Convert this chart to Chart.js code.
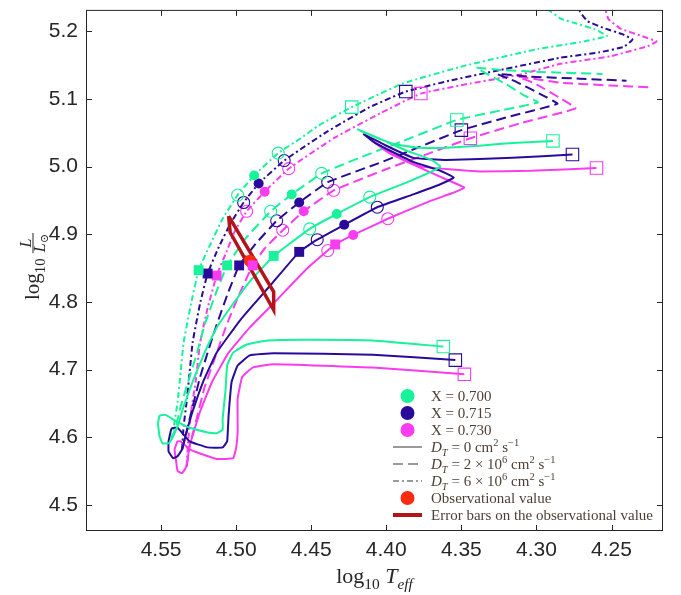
<!DOCTYPE html>
<html>
<head>
<meta charset="utf-8">
<script src="https://cdn.jsdelivr.net/npm/chart.js@4.4.1/dist/chart.umd.min.js"></script>
<style>
  html, body { margin: 0; padding: 0; background: #fff; }
</style>
</head>
<body>
<canvas id="hr" width="681" height="595"></canvas>
<script>
'use strict';

// ─── Axis ticks / ranges ──────────────────────────────────────────────────────
const xTicks = [4.55, 4.50, 4.45, 4.40, 4.35, 4.30, 4.25];
const yTicks = [4.5, 4.6, 4.7, 4.8, 4.9, 5.0, 5.1, 5.2];
const X_MIN = 4.2157, X_MAX = 4.60;
const Y_MIN = 4.4614, Y_MAX = 5.2317;

// ─── Evolutionary tracks [log Teff, log L] ────────────────────────────────────
// D_T = 0 (solid), includes the pre-MS relaxation from the lower square
const greenSolid = [
  [4.362,4.734],[4.409,4.743],[4.453,4.744],[4.479,4.743],[4.493,4.737],[4.502,4.725],
  [4.506,4.706],[4.507,4.671],[4.509,4.627],[4.509,4.611],[4.513,4.606],[4.519,4.607],
  [4.531,4.614],[4.541,4.625],[4.547,4.633],[4.551,4.632],[4.552,4.620],[4.551,4.601],
  [4.549,4.591],[4.545,4.591],[4.543,4.597],[4.539,4.616],[4.535,4.645],[4.529,4.682],
  [4.521,4.725],[4.513,4.762],[4.504,4.791],[4.491,4.830],[4.475,4.868],[4.451,4.908],
  [4.433,4.930],[4.411,4.955],[4.386,4.977],[4.364,5.000],[4.370,5.010],[4.388,5.025],
  [4.404,5.041],[4.419,5.055],[4.408,5.044],[4.394,5.033],[4.378,5.028],[4.360,5.028],
  [4.338,5.031],[4.316,5.035],[4.289,5.038]
];
const blueSolid = [
  [4.354,4.714],[4.409,4.722],[4.475,4.724],[4.491,4.721],[4.499,4.706],[4.503,4.682],
  [4.505,4.633],[4.506,4.594],[4.509,4.585],[4.519,4.585],[4.531,4.594],[4.539,4.614],
  [4.543,4.613],[4.545,4.594],[4.545,4.579],[4.542,4.569],[4.539,4.572],[4.536,4.582],
  [4.533,4.608],[4.529,4.638],[4.522,4.682],[4.513,4.725],[4.497,4.774],[4.477,4.825],
  [4.458,4.874],[4.446,4.892],[4.428,4.914],[4.406,4.940],[4.382,4.959],[4.364,4.974],
  [4.355,4.984],[4.364,4.994],[4.382,5.007],[4.396,5.022],[4.408,5.036],[4.415,5.048],
  [4.401,5.032],[4.382,5.013],[4.360,5.010],[4.316,5.013],[4.276,5.018]
];
const magentaSolid = [
  [4.348,4.693],[4.409,4.703],[4.475,4.708],[4.489,4.703],[4.496,4.689],[4.499,4.657],
  [4.499,4.608],[4.500,4.584],[4.502,4.569],[4.513,4.568],[4.524,4.576],[4.531,4.582],
  [4.537,4.594],[4.539,4.594],[4.541,4.582],[4.540,4.565],[4.539,4.550],[4.536,4.547],
  [4.533,4.557],[4.531,4.587],[4.524,4.638],[4.516,4.682],[4.505,4.725],[4.491,4.762],
  [4.475,4.798],[4.453,4.849],[4.439,4.876],[4.434,4.885],[4.422,4.899],[4.399,4.923],
  [4.371,4.949],[4.356,4.961],[4.348,4.969],[4.360,4.981],[4.382,5.003],[4.398,5.020],
  [4.411,5.041],[4.398,5.022],[4.388,5.010],[4.376,5.000],[4.358,4.996],[4.338,4.993],
  [4.304,4.994],[4.260,4.998]
];
// D_T = 2e6 (dashed)
const greenDashed = [
  [4.543,4.597],[4.540,4.616],[4.537,4.645],[4.532,4.682],[4.526,4.725],[4.521,4.766],
  [4.514,4.810],[4.506,4.854],[4.494,4.893],[4.477,4.934],[4.463,4.959],[4.443,4.990],
  [4.418,5.013],[4.391,5.036],[4.353,5.069],[4.324,5.083],[4.299,5.095],[4.308,5.105],
  [4.321,5.123],[4.333,5.137],[4.340,5.146],[4.324,5.143],[4.298,5.140],[4.256,5.137]
];
const blueDashed = [
  [4.536,4.582],[4.533,4.608],[4.529,4.645],[4.524,4.689],[4.519,4.725],[4.513,4.766],
  [4.506,4.810],[4.498,4.854],[4.487,4.886],[4.473,4.920],[4.458,4.947],[4.439,4.977],
  [4.404,5.006],[4.378,5.029],[4.350,5.054],[4.318,5.074],[4.286,5.093],[4.298,5.108],
  [4.314,5.126],[4.326,5.137],[4.304,5.133],[4.271,5.130],[4.240,5.127]
];
const magentaDashed = [
  [4.533,4.557],[4.531,4.587],[4.526,4.630],[4.521,4.674],[4.514,4.718],[4.507,4.762],
  [4.499,4.806],[4.489,4.854],[4.481,4.879],[4.469,4.906],[4.455,4.934],[4.435,4.965],
  [4.398,4.998],[4.371,5.020],[4.344,5.042],[4.311,5.064],[4.274,5.086],[4.284,5.101],
  [4.301,5.123],[4.312,5.133],[4.284,5.124],[4.251,5.120],[4.223,5.117]
];
// D_T = 6e6 (dash-dot)
const greenDashDot = [
  [4.543,4.597],[4.541,4.623],[4.539,4.652],[4.537,4.696],[4.535,4.740],[4.530,4.798],
  [4.525,4.847],[4.517,4.886],[4.509,4.923],[4.499,4.958],[4.488,4.987],[4.472,5.020],
  [4.457,5.042],[4.445,5.061],[4.423,5.088],[4.389,5.123],[4.348,5.149],[4.299,5.174],
  [4.271,5.184],[4.253,5.193],[4.261,5.203],[4.274,5.212],[4.284,5.219],[4.292,5.232],
  [4.298,5.244]
];
const blueDashDot = [
  [4.536,4.582],[4.535,4.616],[4.533,4.652],[4.531,4.696],[4.529,4.740],[4.524,4.798],
  [4.519,4.842],[4.512,4.879],[4.504,4.915],[4.495,4.947],[4.485,4.975],[4.468,5.009],
  [4.440,5.051],[4.411,5.088],[4.387,5.111],[4.358,5.127],[4.324,5.143],[4.284,5.161],
  [4.258,5.169],[4.242,5.177],[4.236,5.188],[4.243,5.196],[4.254,5.204],[4.266,5.215],
  [4.271,5.229],[4.273,5.244]
];
const magentaDashDot = [
  [4.533,4.557],[4.532,4.594],[4.530,4.638],[4.527,4.682],[4.524,4.740],[4.519,4.791],
  [4.513,4.839],[4.507,4.871],[4.501,4.904],[4.493,4.934],[4.481,4.963],[4.465,4.997],
  [4.435,5.042],[4.404,5.079],[4.377,5.108],[4.344,5.123],[4.311,5.136],[4.284,5.152],
  [4.251,5.163],[4.226,5.178],[4.220,5.185],[4.231,5.194],[4.244,5.204],[4.252,5.218],
  [4.254,5.232],[4.255,5.244]
];

// ─── Markers on the tracks ────────────────────────────────────────────────────
const greenDots    = [[4.433,4.930],[4.463,4.959],[4.488,4.987]];
const blueDots     = [[4.428,4.914],[4.458,4.947],[4.485,4.975]];
const magentaDots  = [[4.422,4.899],[4.455,4.934],[4.481,4.963]];

const greenFilledSq   = [[4.475,4.868],[4.506,4.854],[4.525,4.847]];
const blueFilledSq    = [[4.458,4.874],[4.498,4.854],[4.519,4.842]];
const magentaFilledSq = [[4.434,4.885],[4.489,4.854],[4.513,4.839]];

const greenOpenCirc   = [[4.451,4.908],[4.411,4.955],[4.477,4.934],[4.443,4.990],[4.499,4.958],[4.472,5.020]];
const blueOpenCirc    = [[4.446,4.892],[4.406,4.940],[4.473,4.920],[4.439,4.977],[4.495,4.947],[4.468,5.009]];
const magentaOpenCirc = [[4.439,4.876],[4.399,4.923],[4.469,4.906],[4.435,4.965],[4.493,4.934],[4.465,4.997]];

const greenOpenSq   = [[4.362,4.734],[4.289,5.038],[4.353,5.069],[4.423,5.088]];
const blueOpenSq    = [[4.354,4.714],[4.276,5.018],[4.350,5.054],[4.387,5.111]];
const magentaOpenSq = [[4.348,4.693],[4.260,4.998],[4.344,5.042],[4.377,5.108]];

// observation and its error box
const observed = [[4.491, 4.861]];
const errorBox = [[4.505,4.927],[4.504,4.903],[4.475,4.788],[4.475,4.815],[4.505,4.927]];

// legend text
const seriesLabels = ['X = 0.700', 'X = 0.715', 'X = 0.730'];
const dtMantissa = ['0', '2', '6'];
const dtExponent = [null, '6', '6'];
const obsLabel = 'Observational value';
const errLabel = 'Error bars on the observational value';

// ─── Styles ───────────────────────────────────────────────────────────────────
const GREEN = '#17f29b';
const BLUE = '#2a0a9a';
const MAGENTA = '#fa3cf0';
const OBS_RED = '#ff2a12';
const ERR_RED = '#b3141a';
const AXIS = '#262626';
const LEG_TEXT = '#4d3f33';
const SERIF = "'Liberation Serif', 'DejaVu Serif', serif";
const SANS = "'Liberation Sans', Arial, sans-serif";
const DASH = [10, 5];
const DASHDOT = [6, 3, 2, 3];

const toXY = arr => arr.map(p => ({ x: p[0], y: p[1] }));

function track(pts, color, dash) {
    return {
        data: toXY(pts), showLine: true, borderColor: color, borderWidth: 2,
        borderDash: dash, pointRadius: 0, tension: 0.1, order: 10,
    };
}

function markers(pts, color, style, radius, filled, order) {
    return {
        data: toXY(pts), showLine: false, pointStyle: style, pointRadius: radius,
        pointBackgroundColor: filled ? color : 'rgba(0,0,0,0)',
        pointBorderColor: color, pointBorderWidth: filled ? 0 : 1.1, order,
    };
}

const datasets = [
    track(greenSolid, GREEN, []), track(blueSolid, BLUE, []), track(magentaSolid, MAGENTA, []),
    track(greenDashed, GREEN, DASH), track(blueDashed, BLUE, DASH), track(magentaDashed, MAGENTA, DASH),
    track(greenDashDot, GREEN, DASHDOT), track(blueDashDot, BLUE, DASHDOT), track(magentaDashDot, MAGENTA, DASHDOT),
    { data: toXY(errorBox), showLine: true, borderColor: ERR_RED, borderWidth: 3.5,
      borderJoinStyle: 'miter', pointRadius: 0, order: 5 },
    markers(observed, OBS_RED, 'circle', 6, true, 4),
    markers(greenOpenCirc, GREEN, 'circle', 6, false, 3),
    markers(blueOpenCirc, BLUE, 'circle', 6, false, 3),
    markers(magentaOpenCirc, MAGENTA, 'circle', 6, false, 3),
    markers(greenOpenSq, GREEN, 'rect', 8.8, false, 3),
    markers(blueOpenSq, BLUE, 'rect', 8.8, false, 3),
    markers(magentaOpenSq, MAGENTA, 'rect', 8.8, false, 3),
    markers(greenDots, GREEN, 'circle', 5, true, 2),
    markers(blueDots, BLUE, 'circle', 5, true, 2),
    markers(magentaDots, MAGENTA, 'circle', 5, true, 2),
    markers(greenFilledSq, GREEN, 'rect', 7, true, 1),
    markers(blueFilledSq, BLUE, 'rect', 7, true, 1),
    markers(magentaFilledSq, MAGENTA, 'rect', 7, true, 1),
];

// ─── Rich text helpers (sub/superscripts) ─────────────────────────────────────
function richWidth(ctx, parts, size) {
    let w = 0;
    parts.forEach(([t, st, sh]) => {
        const fs = sh ? size * 0.7 : size;
        ctx.font = (st === 'i' ? 'italic ' : '') + fs + 'px ' + SERIF;
        w += ctx.measureText(t).width;
    });
    return w;
}

function drawRich(ctx, x, y, parts, size) {
    let cx = x;
    parts.forEach(([t, st, sh]) => {
        const fs = sh ? size * 0.7 : size;
        ctx.font = (st === 'i' ? 'italic ' : '') + fs + 'px ' + SERIF;
        const dy = sh === 'sub' ? size * 0.28 : sh === 'sup' ? -size * 0.42 : 0;
        ctx.fillText(t, cx, y + dy);
        cx += ctx.measureText(t).width;
    });
    return cx - x;
}

// ─── Plugins ──────────────────────────────────────────────────────────────────
const framePlugin = {
    id: 'frame',
    afterDatasetsDraw(chart) {
        const { ctx, chartArea: a, scales: { x, y } } = chart;
        const len = 6;
        ctx.save();
        ctx.strokeStyle = AXIS;
        ctx.lineWidth = 1;
        ctx.strokeRect(a.left + 0.5, a.top + 0.5, a.right - a.left - 1, a.bottom - a.top - 1);
        ctx.beginPath();
        xTicks.forEach(v => {
            const px = Math.round(x.getPixelForValue(v)) + 0.5;
            ctx.moveTo(px, a.bottom); ctx.lineTo(px, a.bottom - len);
            ctx.moveTo(px, a.top); ctx.lineTo(px, a.top + len);
        });
        yTicks.forEach(v => {
            const py = Math.round(y.getPixelForValue(v)) + 0.5;
            ctx.moveTo(a.left, py); ctx.lineTo(a.left + len, py);
            ctx.moveTo(a.right, py); ctx.lineTo(a.right - len, py);
        });
        ctx.stroke();
        ctx.restore();
    }
};

const titlePlugin = {
    id: 'axisTitles',
    afterDraw(chart) {
        const { ctx, chartArea: a } = chart;
        ctx.save();
        ctx.fillStyle = AXIS;
        ctx.textBaseline = 'alphabetic';
        // x title: log10 Teff
        const xParts = [['log'], ['10', '', 'sub'], [' '], ['T', 'i'], ['eff', 'i', 'sub']];
        const xs = 22;
        const xw = richWidth(ctx, xParts, xs);
        drawRich(ctx, (a.left + a.right) / 2 - xw / 2, 583, xParts, xs);

        // y title: log10 L / L_sun, rotated
        ctx.translate(39, (a.top + a.bottom) / 2 - 4);
        ctx.rotate(-Math.PI / 2);
        const ys = 21;
        const yParts = [['log'], ['10', '', 'sub'], [' ']];
        const yw = richWidth(ctx, yParts, ys);
        const fs = 16;
        ctx.font = 'italic ' + fs + 'px ' + SERIF;
        const wL = ctx.measureText('L').width;
        ctx.font = (fs * 0.7) + 'px ' + SERIF;
        const wSun = ctx.measureText('\u2299').width;
        const fracW = wL + wSun + 2;
        let cx = -(yw + fracW) / 2;
        cx += drawRich(ctx, cx, 0, yParts, ys);
        ctx.font = 'italic ' + fs + 'px ' + SERIF;
        ctx.fillText('L', cx + (fracW - wL) / 2, -8);
        ctx.fillRect(cx, -6.5, fracW, 1);
        ctx.fillText('L', cx + 1, 6);
        ctx.font = (fs * 0.7) + 'px ' + SERIF;
        ctx.fillText('\u2299', cx + 1 + wL, 9);
        ctx.restore();
    }
};

const legendPlugin = {
    id: 'hrLegend',
    afterDraw(chart) {
        const ctx = chart.ctx;
        const x0 = 393, x1 = 422, mid = 407.5, tx = 431, top = 396, dy = 17, fs = 15;
        const base = r => top + r * dy + 5;
        const rowY = r => top + r * dy;
        ctx.save();
        ctx.textBaseline = 'alphabetic';

        [GREEN, BLUE, MAGENTA].forEach((c, i) => {
            ctx.fillStyle = c;
            ctx.beginPath(); ctx.arc(mid, rowY(i), 7, 0, Math.PI * 2); ctx.fill();
            ctx.fillStyle = LEG_TEXT;
            drawRich(ctx, tx, base(i), [[seriesLabels[i]]], fs);
        });

        [[], DASH, DASHDOT].forEach((d, i) => {
            const r = 3 + i;
            ctx.strokeStyle = '#9a9a9a'; ctx.lineWidth = 2; ctx.setLineDash(d);
            ctx.beginPath(); ctx.moveTo(x0, rowY(r)); ctx.lineTo(x1, rowY(r)); ctx.stroke();
            ctx.setLineDash([]);
            const parts = [['D', 'i'], ['T', 'i', 'sub'], [' = ' + dtMantissa[i]]];
            if (dtExponent[i]) parts.push([' \u00d7 10'], [dtExponent[i], '', 'sup']);
            parts.push([' cm'], ['2', '', 'sup'], [' s'], ['\u22121', '', 'sup']);
            ctx.fillStyle = LEG_TEXT;
            drawRich(ctx, tx, base(r), parts, fs);
        });

        ctx.fillStyle = OBS_RED;
        ctx.beginPath(); ctx.arc(mid, rowY(6), 7, 0, Math.PI * 2); ctx.fill();
        ctx.fillStyle = LEG_TEXT;
        drawRich(ctx, tx, base(6), [[obsLabel]], fs);

        ctx.strokeStyle = ERR_RED; ctx.lineWidth = 4;
        ctx.beginPath(); ctx.moveTo(x0, rowY(7)); ctx.lineTo(x1, rowY(7)); ctx.stroke();
        ctx.fillStyle = LEG_TEXT;
        drawRich(ctx, tx, base(7), [[errLabel]], fs);
        ctx.restore();
    }
};

// ─── Chart ────────────────────────────────────────────────────────────────────
new Chart(document.getElementById('hr'), {
    type: 'scatter',
    data: { datasets },
    options: {
        responsive: false,
        animation: false,
        layout: { padding: { top: 3, right: 18, left: 0, bottom: 0 } },
        plugins: { legend: { display: false }, tooltip: { enabled: false } },
        scales: {
            x: {
                type: 'linear', reverse: true, min: X_MIN, max: X_MAX,
                grid: { display: false, drawTicks: false }, border: { display: false },
                ticks: { font: { family: SANS, size: 21 }, color: AXIS, padding: 7,
                         maxRotation: 0, autoSkip: false, callback: v => v.toFixed(2) },
                afterBuildTicks: s => { s.ticks = xTicks.map(v => ({ value: v })); },
                afterFit: s => { s.height = 64; s.paddingLeft = 0; s.paddingRight = 0; },
            },
            y: {
                type: 'linear', min: Y_MIN, max: Y_MAX,
                grid: { display: false, drawTicks: false }, border: { display: false },
                ticks: { font: { family: SANS, size: 21 }, color: AXIS, padding: 8,
                         autoSkip: false, callback: v => v.toFixed(1) },
                afterBuildTicks: s => { s.ticks = yTicks.map(v => ({ value: v })); },
                afterFit: s => { s.width = 86; s.paddingTop = 0; s.paddingBottom = 0; },
            },
        },
    },
    plugins: [framePlugin, titlePlugin, legendPlugin],
});
</script>
</body>
</html>
